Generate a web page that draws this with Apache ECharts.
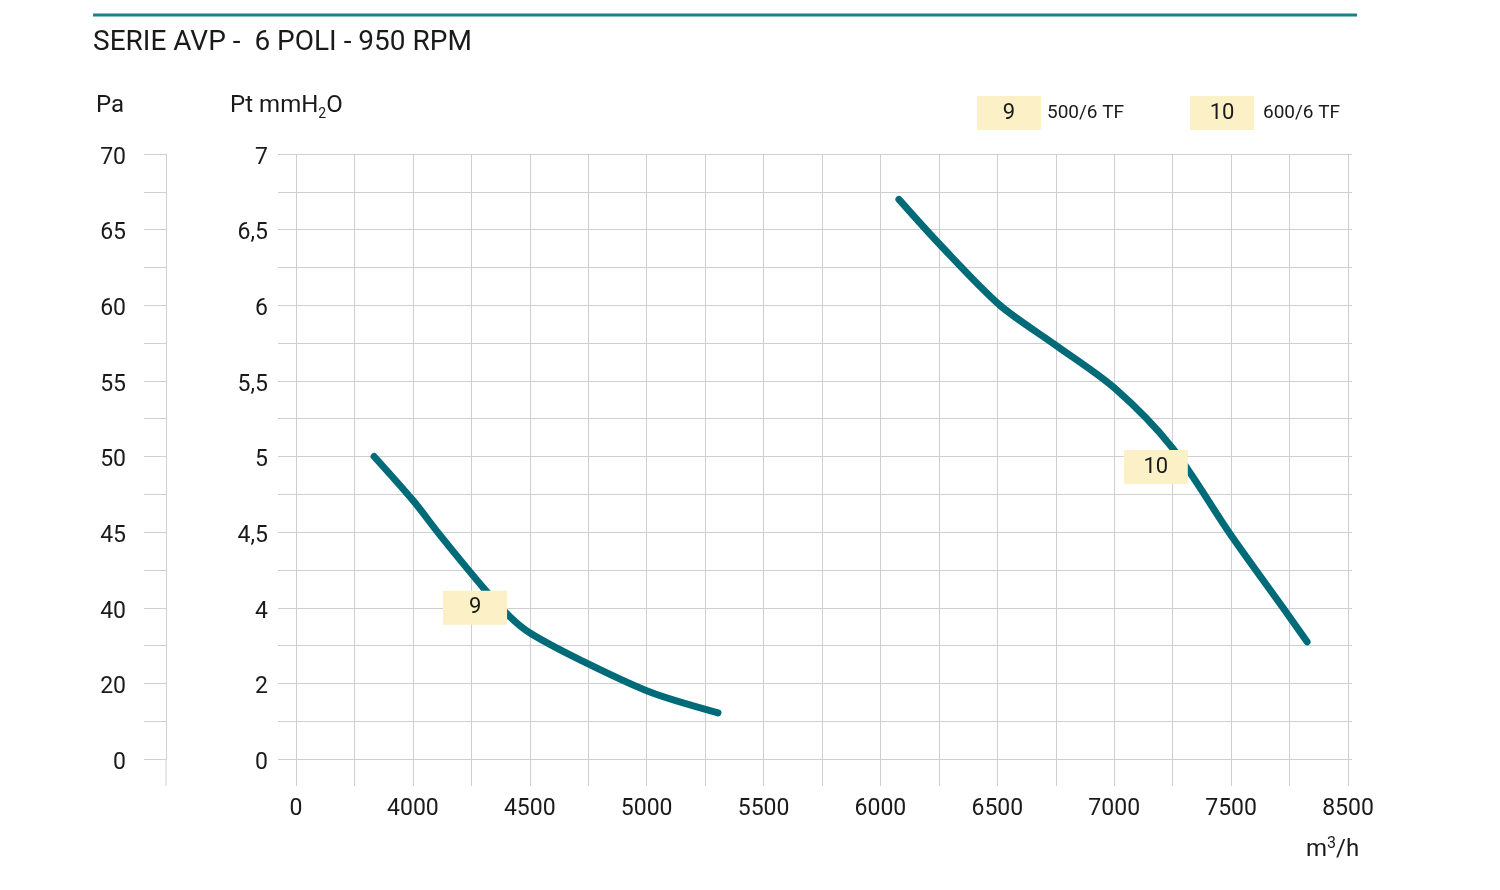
<!DOCTYPE html>
<html>
<head>
<meta charset="utf-8">
<title>SERIE AVP - 6 POLI - 950 RPM</title>
<script src="https://cdn.jsdelivr.net/npm/echarts@6/dist/echarts.min.js"></script>
<style>
  html, body { margin: 0; padding: 0; background: #fff; }
  #main { width: 1500px; height: 890px; }
</style>
</head>
<body>
<div id="main"></div>
<script>
// dati (portata m3/h, pressione totale mmH2O)
var tags = ['9', '10'];
var models = ['500/6 TF', '600/6 TF'];

var flow9 = [3834, 4000, 4116, 4308, 4415, 4501, 4715, 5014, 5305];
var pt9   = [5.00, 4.71, 4.48, 4.12, 3.76, 3.33, 2.62, 1.77, 1.22];

var flow10 = [6079, 6255, 6511, 6746, 7003, 7247, 7495, 7722, 7825];
var pt10   = [6.70, 6.40, 6.00, 5.74, 5.45, 5.06, 4.49, 4.00, 3.10];

// posizione delle etichette sulle curve
var tagFlow = [4266, 7178];
var tagPt   = [4.00, 4.93];

// etichette degli assi
var xTickValues = [3500, 4000, 4500, 5000, 5500, 6000, 6500, 7000, 7500, 8000];
var xTickLabels = ['0', '4000', '4500', '5000', '5500', '6000', '6500', '7000', '7500', '8500'];
var ptLabels = ['0', '2', '4', '4,5', '5', '5,5', '6', '6,5', '7'];
var paLabels = ['0', '20', '40', '45', '50', '55', '60', '65', '70'];

var FONT = 'Roboto, "Noto Sans", sans-serif';
var GRIDC = '#cfcfcf';
var TEAL = '#006b78';
var TAGBG = '#fcf0c6';

// asse spezzato: sotto 4 mmH2O la scala è compressa
function toDisp(pt) {
  return pt >= 4 ? 2 + (pt - 4) * 2 : pt / 2;
}

function pairs(xs, ys) {
  return xs.map(function (x, i) { return [x, toDisp(ys[i])]; });
}

var mychart = echarts.init(document.getElementById('main'));

function curve(name, xs, ys, i) {
  return {
    name: name,
    type: 'line',
    data: pairs(xs, ys),
    smooth: 0.3,
    symbol: 'none',
    lineStyle: { color: TEAL, width: 7, cap: 'round', join: 'round' },
    z: 3,
    markPoint: {
      symbol: 'rect',
      symbolSize: [64, 34],
      itemStyle: { color: TAGBG },
      label: { show: true, formatter: tags[i], color: '#1a1a1a', fontSize: 22, fontFamily: FONT },
      data: [{ coord: [tagFlow[i], toDisp(tagPt[i])] }],
      z: 5
    }
  };
}

// legenda fatta a mano (riquadro con numero + modello)
var legendX = [977, 1190];
var legendEls = [];
tags.forEach(function (t, i) {
  legendEls.push({ type: 'rect', left: legendX[i], top: 96, shape: { width: 64, height: 34 }, style: { fill: TAGBG } });
  legendEls.push({ type: 'text', x: legendX[i] + 32, y: 113, style: { text: t, font: '22px ' + FONT, fill: '#1a1a1a', align: 'center', verticalAlign: 'middle' } });
  legendEls.push({ type: 'text', x: legendX[i] + (i === 0 ? 70 : 73), y: 113, style: { text: models[i], font: '19px ' + FONT, fill: '#1a1a1a', align: 'left', verticalAlign: 'middle' } });
});

var option = {
  animation: false,
  title: {
    text: 'SERIE AVP -  6 POLI - 950 RPM',
    left: 88,
    top: 24,
    textStyle: { fontSize: 28, fontWeight: 'normal', color: '#1a1a1a', fontFamily: FONT }
  },
  grid: { left: 296, right: 152, top: 154, bottom: 131 },
  xAxis: {
    type: 'value',
    min: 3500,
    max: 8000,
    interval: 250,
    axisLine: { show: false },
    axisTick: { show: true, length: 27, lineStyle: { color: GRIDC } },
    splitLine: { show: true, lineStyle: { color: GRIDC } },
    axisLabel: {
      margin: 39,
      fontSize: 23,
      color: '#1a1a1a',
      fontFamily: FONT,
      formatter: function (v) {
        var k = xTickValues.indexOf(v);
        return k >= 0 ? xTickLabels[k] : '';
      }
    }
  },
  yAxis: [
    {
      type: 'value', min: 0, max: 8, interval: 0.5, position: 'left',
      axisLine: { show: false },
      axisTick: { show: true, length: 18, lineStyle: { color: GRIDC } },
      splitLine: { show: true, lineStyle: { color: GRIDC } },
      axisLabel: {
        margin: 28, fontSize: 23, color: '#1a1a1a', fontFamily: FONT, verticalAlign: 'top', lineHeight: 8,
        formatter: function (v) { return Number.isInteger(v) ? ptLabels[v] : ''; }
      }
    },
    {
      type: 'value', min: 0, max: 8, interval: 0.5, position: 'left', offset: 130,
      axisLine: { show: true, lineStyle: { color: GRIDC } },
      axisTick: { show: true, length: 22, lineStyle: { color: GRIDC } },
      splitLine: { show: false },
      axisLabel: {
        margin: 40, fontSize: 23, color: '#1a1a1a', fontFamily: FONT, verticalAlign: 'top', lineHeight: 8,
        formatter: function (v) { return Number.isInteger(v) ? paLabels[v] : ''; }
      }
    },
    {
      type: 'value', min: 0, max: 8, interval: 0.5, position: 'right',
      axisLine: { show: false },
      axisTick: { show: true, length: 4, lineStyle: { color: GRIDC } },
      splitLine: { show: false },
      axisLabel: { show: false }
    }
  ],
  graphic: [
    { type: 'line', shape: { x1: 93, y1: 15, x2: 1357, y2: 15 }, style: { stroke: '#1d7f8b', lineWidth: 3 } },
    { type: 'line', shape: { x1: 166, y1: 759, x2: 166, y2: 786 }, style: { stroke: GRIDC, lineWidth: 1 } },
    { type: 'text', x: 96, y: 106, style: { text: 'Pa', font: '24px ' + FONT, fill: '#1a1a1a', verticalAlign: 'middle' } },
    {
      type: 'text', x: 230, y: 106,
      style: {
        text: 'Pt mmH{sub|2}O', font: '24px ' + FONT, fill: '#1a1a1a', verticalAlign: 'middle',
        rich: { sub: { fontSize: 14, fontFamily: FONT, fill: '#1a1a1a', padding: [16, 0, 0, 0] } }
      }
    },
    {
      type: 'text', x: 1306, y: 850,
      style: {
        text: 'm{sup|3}/h', font: '24px ' + FONT, fill: '#1a1a1a', verticalAlign: 'middle',
        rich: { sup: { fontSize: 16, fontFamily: FONT, fill: '#1a1a1a', padding: [0, 0, 12, 0] } }
      }
    }
  ].concat(legendEls),
  series: [
    curve(models[0], flow9, pt9, 0),
    curve(models[1], flow10, pt10, 1)
  ]
};

mychart.setOption(option);
</script>
</body>
</html>
